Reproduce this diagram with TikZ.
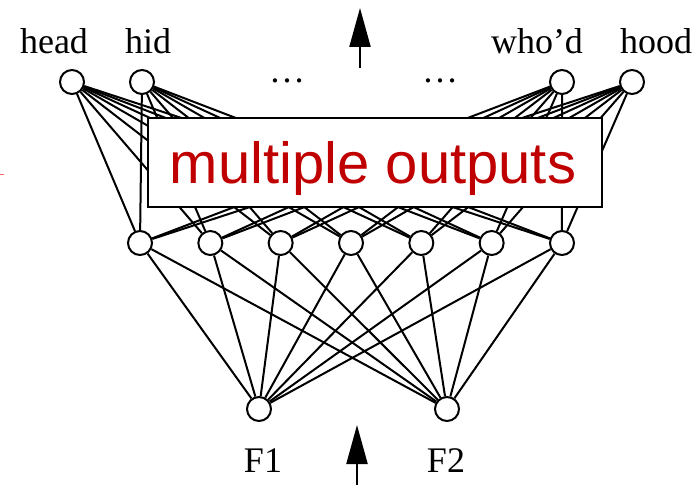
\documentclass[tikz,border=0pt]{standalone}
\usepackage{fontspec}
\setmainfont{Liberation Serif}
\newfontfamily\redsans{Liberation Sans}
\usetikzlibrary{arrows.meta}
\definecolor{outred}{RGB}{192,0,0}
\begin{document}
\begin{tikzpicture}[x=1pt,y=-1pt,
  unit/.style={circle,draw,line width=2pt,minimum size=24pt,inner sep=0pt,fill=white},
  lbl/.style={anchor=base,inner sep=0pt,font=\fontsize{36}{40}\selectfont},
  wire/.style={line width=2pt},
  flow/.style={line width=2.2pt,-{Triangle[length=39pt,width=21pt]}},
  banner/.style={draw,line width=2pt,fill=white,minimum width=454pt,minimum height=89pt,inner sep=0pt},
  bannertext/.style={anchor=base,inner sep=0pt,text=outred,font=\redsans\fontsize{58}{64}\selectfont}]
\useasboundingbox (0,0) rectangle (698,487);
% output units
\node[unit] (head) at (72,82) {};
\node[unit] (hid)  at (142,82) {};
\node[unit] (whod) at (562,82) {};
\node[unit] (hood) at (632,82) {};
% hidden units
\foreach \i in {1,...,7}{
  \node[unit] (h\i) at ({140+70.33*(\i-1)},243) {};
}
% input units
\node[unit] (F1) at (259,409) {};
\node[unit] (F2) at (447,409) {};
% connections
\foreach \t in {head,hid,whod,hood}{
  \foreach \i in {1,...,7}{
    \draw[wire] (\t) -- (h\i);
  }
}
\foreach \b in {F1,F2}{
  \foreach \i in {1,...,7}{
    \draw[wire] (\b) -- (h\i);
  }
}
% labels
\node[lbl] (lhead) at (54,53) {head};
\node[lbl] (lhid) at (148,53) {hid};
\node[lbl] (lwhod) at (537,53) {who’d};
\node[lbl] (lhood) at (656,53) {hood};
\node[lbl] (dotsA) at (287,82) {\ldots};
\node[lbl] (dotsB) at (440,82) {\ldots};
\node[lbl] (lF1) at (263,472) {F1};
\node[lbl] (lF2) at (446,472) {F2};
% flow arrows
\coordinate (topS) at (360,68);
\coordinate (topE) at (360,8);
\coordinate (botS) at (357,485);
\coordinate (botE) at (357,425);
\draw[flow] (topS) -- (topE);
\draw[flow] (botS) -- (botE);
% banner
\node[banner] (box) at (375,162.5) {};
\node[bannertext] (boxtxt) at (373,183) {multiple outputs};
% stray mark
\draw[red!60,line width=1pt] (0,174) -- (4,174);
\end{tikzpicture}
\end{document}
